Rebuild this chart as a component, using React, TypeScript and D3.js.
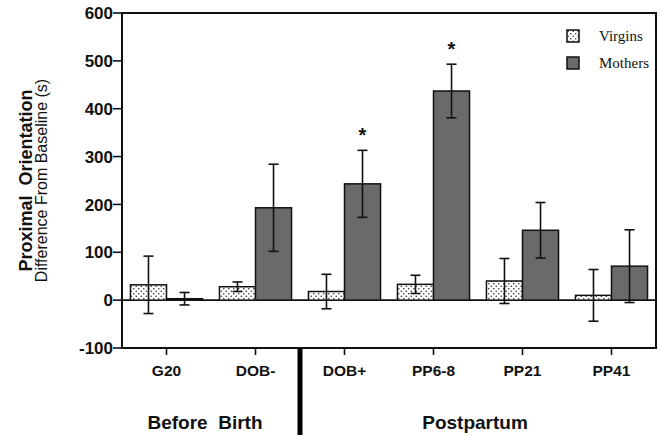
import React from 'react';
import * as d3 from 'd3';

const groups = ['G20', 'DOB-', 'DOB+', 'PP6-8', 'PP21', 'PP41'];
const seriesNames = ['Virgins', 'Mothers'];
const virginMean = [32, 28, 18, 33, 40, 10];
const virginSE = [60, 10, 36, 19, 47, 54];
const motherMean = [3, 193, 243, 437, 146, 71];
const motherSE = [13, 91, 70, 56, 58, 76];
const motherSignificant = [false, false, true, true, false, false];
const yTicks = [-100, 0, 100, 200, 300, 400, 500, 600];
const periods = [
  { label: 'Before  Birth', from: 0, to: 1 },
  { label: 'Postpartum', from: 2, to: 5 },
];

const W = 662;
const H = 435;
const margin = { left: 122, right: 6, top: 13, bottom: 87 };
const sans = '"Liberation Sans", Arial, Helvetica, sans-serif';
const serif = '"Liberation Serif", "Times New Roman", serif';
const motherFill = '#6a6a6a';

export default function App() {
  const x = d3
    .scaleBand<string>()
    .domain(groups)
    .range([margin.left, W - margin.right])
    .paddingInner(0.19)
    .paddingOuter(0.095);
  const xs = d3.scaleBand<string>().domain(seriesNames).range([0, x.bandwidth()]);
  const y = d3.scaleLinear().domain([-100, 600]).range([H - margin.bottom, margin.top]);

  const x0 = margin.left;
  const x1 = W - margin.right;
  const yBottom = y(-100);
  const yTop = y(600);
  const step = x.step();
  const gap = step - x.bandwidth();

  const series = [
    { name: 'Virgins', mean: virginMean, se: virginSE, fill: 'url(#stipple)', sig: groups.map(() => false) },
    { name: 'Mothers', mean: motherMean, se: motherSE, fill: motherFill, sig: motherSignificant },
  ];

  return (
    <svg width={W} height={H} style={{ position: 'absolute', left: 0, top: 0, background: '#fff' }}>
      <defs>
        <pattern id="stipple" width={5} height={5} patternUnits="userSpaceOnUse">
          <rect width={5} height={5} fill="#fff" />
          <circle cx={1.25} cy={1.25} r={0.8} fill="#333" />
          <circle cx={3.75} cy={3.75} r={0.8} fill="#333" />
        </pattern>
      </defs>

      {/* frame */}
      <rect x={x0} y={yTop} width={x1 - x0} height={yBottom - yTop} fill="none" stroke="#111" strokeWidth={2} />
      {/* zero line */}
      <line x1={x0} x2={x1} y1={y(0)} y2={y(0)} stroke="#111" strokeWidth={1.6} />

      {/* y axis ticks */}
      {yTicks.map((t) => (
        <g key={t}>
          <line x1={x0 - 9} x2={x0} y1={y(t)} y2={y(t)} stroke="#111" strokeWidth={1.6} />
          <text
            x={x0 - 9}
            y={y(t)}
            dy="0.36em"
            textAnchor="end"
            fontFamily={sans}
            fontWeight="bold"
            fontSize={17}
            fill="#111"
          >
            {t}
          </text>
        </g>
      ))}

      {/* bars */}
      {series.map((s) =>
        groups.map((g, i) => {
          const bx = (x(g) ?? 0) + (xs(s.name) ?? 0);
          const bw = xs.bandwidth();
          const v = s.mean[i];
          const top = y(Math.max(0, v));
          const h = Math.abs(y(v) - y(0));
          return (
            <rect key={s.name + g} x={bx} y={top} width={bw} height={h} fill={s.fill} stroke="#111" strokeWidth={1.5} />
          );
        })
      )}

      {/* error bars and asterisks */}
      {series.map((s) =>
        groups.map((g, i) => {
          const cx = (x(g) ?? 0) + (xs(s.name) ?? 0) + xs.bandwidth() / 2;
          const hi = y(s.mean[i] + s.se[i]);
          const lo = y(s.mean[i] - s.se[i]);
          return (
            <g key={'e' + s.name + g} stroke="#111" strokeWidth={1.6}>
              <line x1={cx} x2={cx} y1={hi} y2={lo} />
              <line x1={cx - 5} x2={cx + 5} y1={hi} y2={hi} />
              <line x1={cx - 5} x2={cx + 5} y1={lo} y2={lo} />
              {s.sig[i] && (
                <text
                  x={cx}
                  y={hi - 8}
                  textAnchor="middle"
                  fontFamily={sans}
                  fontWeight="bold"
                  fontSize={20}
                  fill="#111"
                  stroke="none"
                >
                  *
                </text>
              )}
            </g>
          );
        })
      )}

      {/* x ticks and labels */}
      {groups.map((g) => {
        const cx = (x(g) ?? 0) + x.bandwidth() / 2;
        return (
          <g key={'x' + g}>
            <line x1={cx} x2={cx} y1={yBottom} y2={yBottom + 7} stroke="#111" strokeWidth={1.6} />
            <text x={cx} y={376} textAnchor="middle" fontFamily={sans} fontWeight="bold" fontSize={15.5} fill="#111">
              {g}
            </text>
          </g>
        );
      })}

      {/* period divider */}
      <line
        x1={(x(groups[1]) ?? 0) + x.bandwidth() + gap / 2}
        x2={(x(groups[1]) ?? 0) + x.bandwidth() + gap / 2}
        y1={yBottom}
        y2={H}
        stroke="#000"
        strokeWidth={5}
      />

      {/* period labels */}
      {periods.map((p) => {
        const a = (x(groups[p.from]) ?? 0) + x.bandwidth() / 2;
        const b = (x(groups[p.to]) ?? 0) + x.bandwidth() / 2;
        return (
          <text
            key={p.label}
            x={(a + b) / 2 - (p.from === 0 ? 6 : 3)}
            y={429}
            textAnchor="middle"
            fontFamily={sans}
            fontWeight="bold"
            fontSize={19}
            fill="#111"
            style={{ whiteSpace: 'pre' }}
          >
            {p.label}
          </text>
        );
      })}

      {/* y axis title */}
      <text
        transform={`translate(32,${(yTop + yBottom) / 2}) rotate(-90)`}
        textAnchor="middle"
        fontFamily={sans}
        fontWeight="bold"
        fontSize={18}
        fill="#111"
        style={{ whiteSpace: 'pre' }}
      >
        {'Proximal  Orientation'}
      </text>
      <text
        transform={`translate(47,${(yTop + yBottom) / 2}) rotate(-90)`}
        textAnchor="middle"
        fontFamily={sans}
        fontSize={16}
        fill="#111"
      >
        Difference From Baseline (s)
      </text>

      {/* legend */}
      {series.map((s, i) => (
        <g key={'l' + s.name} transform={`translate(567,${30 + i * 27})`}>
          <rect width={12} height={12} fill={s.fill} stroke="#111" strokeWidth={1.5} />
          <text x={32} y={11} fontFamily={serif} fontSize={15} fill="#111">
            {s.name}
          </text>
        </g>
      ))}
    </svg>
  );
}
